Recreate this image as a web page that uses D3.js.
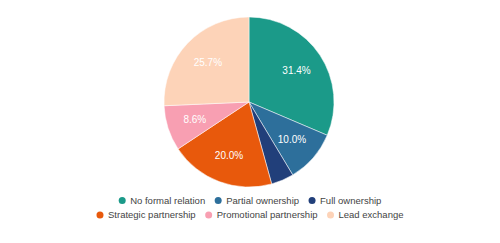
<!DOCTYPE html>
<html>
<head>
<meta charset="utf-8">
<script src="https://cdn.jsdelivr.net/npm/d3@7"></script>
<style>
  body { margin: 0; background: #fff; }
  text { font-family: "Liberation Sans", Arial, sans-serif; }
</style>
</head>
<body>
<div id="chart"></div>
<script>
// Chart data
var categories = ["No formal relation", "Partial ownership", "Full ownership",
                  "Strategic partnership", "Promotional partnership", "Lead exchange"];
var values = [31.4, 10.0, 4.3, 20.0, 8.6, 25.7];
var colors = ["#1b9a89", "#2d6f9b", "#213f7a", "#e8590c", "#f89fb2", "#fdd3b8"];
var legendRows = [[0, 1, 2], [3, 4, 5]];

var width = 500, height = 243,
    cx = 249, cy = 102, radius = 85;

var svg = d3.select("#chart").append("svg")
    .attr("width", width)
    .attr("height", height);

var data = categories.map(function(c, i) { return {name: c, value: values[i], color: colors[i]}; });

var pie = d3.pie().sort(null).value(function(d) { return d.value; });
var arc = d3.arc().innerRadius(0).outerRadius(radius);
var labelArc = d3.arc().innerRadius(radius * 0.67).outerRadius(radius * 0.67);

var g = svg.append("g").attr("transform", "translate(" + cx + "," + cy + ")");
var arcs = pie(data);

g.selectAll("path")
    .data(arcs)
  .enter().append("path")
    .attr("d", arc)
    .attr("fill", function(d) { return d.data.color; })
    .attr("stroke", "#fff")
    .attr("stroke-width", 0.5);

// Percent labels (small slice has none)
g.selectAll("text.pct")
    .data(arcs.filter(function(d) { return d.data.value >= 5; }))
  .enter().append("text")
    .attr("class", "pct")
    .attr("transform", function(d) { return "translate(" + labelArc.centroid(d) + ")"; })
    .attr("text-anchor", "middle")
    .attr("dy", "0.35em")
    .attr("fill", "#fff")
    .style("font-size", "10px")
    .text(function(d) { return d.data.value.toFixed(1) + "%"; });

// Legend, two centered rows
var legend = svg.append("g").style("font-size", "9.5px");
var rowY = [200.5, 215];
legendRows.forEach(function(row, r) {
  var items = row.map(function(i) {
    var it = legend.append("g");
    it.append("circle").attr("cx", 3.5).attr("cy", 0).attr("r", 3.5).attr("fill", colors[i]);
    it.append("text").attr("x", 11.5).attr("dy", "0.35em").attr("fill", "#444").text(categories[i]);
    return it;
  });
  var gap = 9.5;
  var widths = items.map(function(it) { return it.node().getBBox().width; });
  var total = d3.sum(widths) + gap * (items.length - 1);
  var x = (width - total) / 2;
  items.forEach(function(it, k) {
    it.attr("transform", "translate(" + x + "," + rowY[r] + ")");
    x += widths[k] + gap;
  });
});
</script>
</body>
</html>
